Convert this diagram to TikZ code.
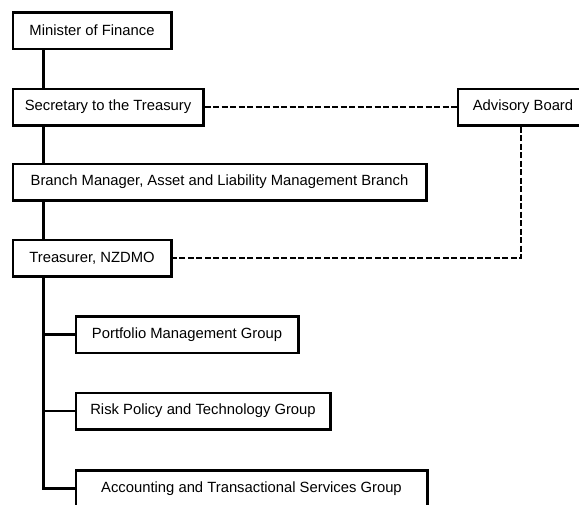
\documentclass[tikz,border=0pt]{standalone}
\usepackage{fontspec}
\setmainfont{Liberation Sans}
\begin{document}
\begin{tikzpicture}[x=1pt,y=-1pt,
  orgbox/.style={draw, line width=2.5pt, inner sep=0pt, minimum height=36.5pt,
    font=\fontsize{14.8}{17}\selectfont},
  trunkline/.style={line width=2.8pt},
  advline/.style={line width=2.2pt, dash pattern=on 6pt off 2.5pt}]
\useasboundingbox (0,0) rectangle (579,504);
\clip (0,0) rectangle (579,504);
\coordinate (trunk) at (43.5,0);
\node[orgbox, minimum width=158.5pt] (min) at (92,30.5) {Minister of Finance};
\node[orgbox, minimum width=190.5pt] (sec) at (108,107) {Secretary to the Treasury};
\node[orgbox, minimum width=413.5pt] (bra) at (219.5,182) {Branch Manager, Asset and Liability Management Branch};
\node[orgbox, minimum width=158.5pt] (tre) at (92,258) {Treasurer, NZDMO};
\node[orgbox, minimum width=222.5pt] (pmg) at (187,334.5) {Portfolio Management Group};
\node[orgbox, minimum width=254.5pt] (rpt) at (203,411) {Risk Policy and Technology Group};
\node[orgbox, minimum width=351.5pt] (ats) at (251.5,488.5) {Accounting and Transactional Services Group};
\node[orgbox, minimum width=130.5pt] (adv) at (523,107) {Advisory Board};
\coordinate (corner) at (521,258);
\draw[trunkline] (min.south -| trunk) -- (sec.north -| trunk);
\draw[trunkline] (sec.south -| trunk) -- (bra.north -| trunk);
\draw[trunkline] (bra.south -| trunk) -- (tre.north -| trunk);
\draw[trunkline] (tre.south -| trunk) |- (ats.west);
\draw[trunkline] (trunk |- pmg.west) -- (pmg.west);
\draw[trunkline] (trunk |- rpt.west) -- (rpt.west);
\draw[advline] (sec.east) -- (adv.west);
\draw[advline] (adv.south -| corner) -- (corner) -- (tre.east);
\end{tikzpicture}
\end{document}
